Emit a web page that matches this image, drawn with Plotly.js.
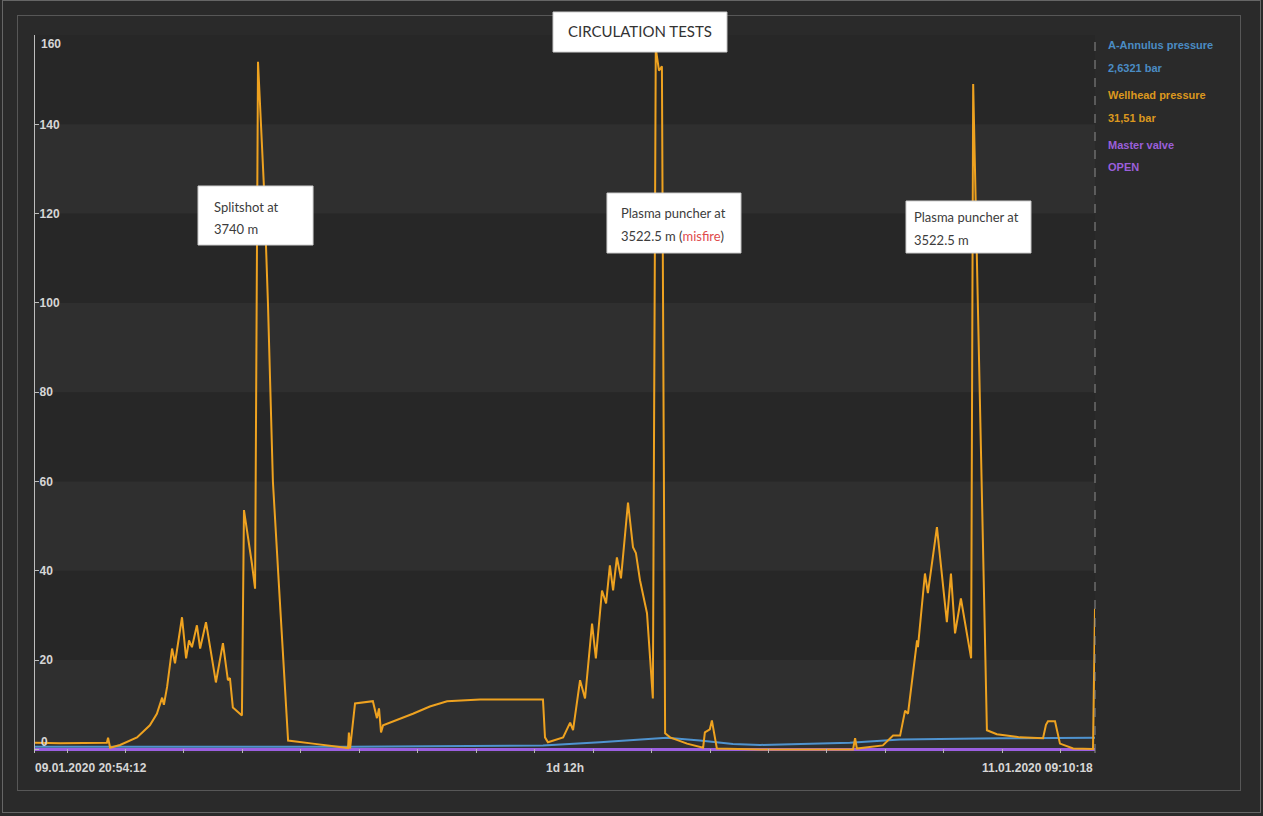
<!DOCTYPE html>
<html>
<head>
<meta charset="utf-8">
<script src="https://cdn.plot.ly/plotly-3.0.1.min.js"></script>
<style>
  html, body { margin: 0; padding: 0; background: #2a2a2a; }
  #wrap { position: relative; width: 1263px; height: 816px; overflow: hidden; background: #2a2a2a; }
  #edge { position: absolute; left: 2px; top: 0; width: 1259px; height: 813px; border: 1px solid #666; box-sizing: border-box; }
  #frame { position: absolute; left: 17px; top: 15px; width: 1224px; height: 776px; border: 1px solid #575757; box-sizing: border-box; }
  #chart { position: absolute; left: 0; top: 0; width: 1263px; height: 816px; }
</style>
</head>
<body>
<div id="wrap">
  <div id="edge"></div>
  <div id="frame"></div>
  <div id="chart"></div>
</div>
<script>
// Time window of the trend view
const windowStart = '2020-01-09T20:54:12Z';
const windowEnd = '2020-01-11T09:10:18Z';
const startLabel = '09.01.2020 20:54:12';
const spanLabel = '1d 12h';
const endLabel = '11.01.2020 09:10:18';

// Wellhead pressure [bar], sampled at hours after window start
const wellheadHours = [0.00,0.86,2.46,2.50,2.57,2.91,3.49,3.93,4.17,4.35,4.41,4.52,4.69,4.79,5.03,5.17,5.27,5.37,5.54,5.65,5.85,6.19,6.43,6.60,6.67,6.77,7.08,7.15,7.42,7.53,7.63,7.84,7.97,8.14,8.38,8.66,9.51,10.54,10.71,10.74,10.78,10.95,11.56,11.70,11.77,11.84,11.91,12.93,13.51,14.10,15.23,17.38,17.45,17.55,18.07,18.31,18.41,18.65,18.82,19.06,19.19,19.40,19.54,19.67,19.78,19.91,20.05,20.29,20.46,20.56,20.70,20.94,21.14,21.24,21.35,21.45,21.56,21.73,22.31,22.86,22.92,23.09,23.16,23.20,23.33,24.81,27.99,28.06,28.12,29.01,29.36,29.60,29.77,29.87,30.01,30.18,30.21,30.45,30.55,30.86,31.20,31.34,31.48,31.68,32.03,32.10,32.57,32.91,33.70,34.49,34.59,34.66,34.90,35.00,35.07,35.52,36.20,36.268];
const wellheadBar = [1.5,1.4,1.5,2.6,0.4,1.0,2.7,5.4,8.0,11.6,10.0,14.0,22.6,19.3,29.6,20.4,24.4,22.9,27.8,22.6,28.5,15.0,23.8,15.5,16.0,9.4,7.6,53.6,41.7,36.0,154,125,100,60,33,2.0,1.3,0.4,0.3,3.8,0.2,10.3,10.8,7.0,9.2,3.8,5.4,8.0,9.6,10.8,11.2,11.2,2.7,1.6,2.7,6.0,4.3,15.5,11.4,28.2,20.4,35.6,32.7,41.2,35.6,43.0,38.3,55.3,45.3,44.0,37.9,30.5,11.4,157,152,153,3.6,2.7,1.3,0.4,3.8,4.5,6.5,5.0,0.2,0.0,0.0,2.5,0.2,0.9,3.1,3.1,8.7,8.0,15.5,24.4,22.9,39.4,35.0,49.8,28.5,39.4,26.0,33.8,20.4,149,4.3,3.4,2.7,2.5,5.5,6.3,6.3,3.0,1.3,0.2,0.1,31.51];

// A-annulus pressure [bar]
const annulusHours = [0, 10.78, 17.38, 19.33, 21.62, 22.75, 23.88, 24.81, 27.88, 29.6, 33.0, 36.268];
const annulusBar = [0.6, 0.6, 0.9, 1.6, 2.6, 2.0, 1.2, 1.0, 1.5, 2.2, 2.5, 2.6321];

// Master valve state trace
const valveHours = [0, 36.268];
const valveLevel = [0, 0];
const valveStatus = 'OPEN';

// Y axis ticks
const yTicks = [0, 20, 40, 60, 80, 100, 120, 140, 160];

const colors = { annulus: '#4f93cf', wellhead: '#eea220', valve: '#9b5fe0' };

const t0 = Date.parse(windowStart);
const t1 = Date.parse(windowEnd);
const toTime = h => t0 + h * 3600000;

const traces = [
  { x: valveHours.map(toTime), y: valveLevel, mode: 'lines', line: { color: colors.valve, width: 3 }, name: 'Master valve' },
  { x: annulusHours.map(toTime), y: annulusBar, mode: 'lines', line: { color: colors.annulus, width: 2 }, name: 'A-Annulus pressure' },
  { x: wellheadHours.map(toTime), y: wellheadBar, mode: 'lines', line: { color: colors.wellhead, width: 2 }, name: 'Wellhead pressure' }
];

const yMin = -0.8;

// Alternating horizontal bands between y ticks
const shapes = [];
for (let i = 0; i + 1 < yTicks.length; i += 2) {
  shapes.push({ type: 'rect', xref: 'paper', yref: 'y', x0: 0, x1: 1,
    y0: i === 0 ? yMin : yTicks[i], y1: yTicks[i + 1],
    fillcolor: '#2f2f2f', line: { width: 0 }, layer: 'below' });
}
// "now" marker on the right edge
shapes.push({ type: 'line', xref: 'paper', yref: 'paper', x0: 1, x1: 1, y0: 0, y1: 1,
  line: { color: '#8c8c8c', width: 1, dash: 'dash' } });

// Note boxes
const boxes = [
  [0.4887, 0.6528, 0.9763, 1.0320],
  [0.1538, 0.2623, 0.7075, 0.7897],
  [0.5396, 0.6660, 0.6964, 0.7799],
  [0.8217, 0.9396, 0.6964, 0.7688]
];
boxes.forEach(b => shapes.push({ type: 'rect', xref: 'paper', yref: 'paper',
  x0: b[0], x1: b[1], y0: b[2], y1: b[3], fillcolor: '#ffffff',
  line: { color: '#cfcfcf', width: 1 }, layer: 'above' }));

const noteFont = { family: 'Lato, "Open Sans", sans-serif', size: 13, color: '#3c3c3c' };
const axisFont = { family: '"Liberation Sans", Arial, sans-serif', size: 12, color: '#d6d6d6', weight: 'bold' };
const legendFont = c => ({ family: '"Liberation Sans", Arial, sans-serif', size: 11, color: c, weight: 'bold' });

const fmt = (v, d) => v.toFixed(d).replace('.', ',');

const note = (text, x, y, extra) => Object.assign({ text, x, y, xref: 'paper', yref: 'paper',
  xanchor: 'left', yanchor: 'middle', showarrow: false, font: noteFont }, extra || {});

const annotations = [
  note('CIRCULATION TESTS', 0.5708, 1.0056, { xanchor: 'center', font: Object.assign({}, noteFont, { size: 15, color: '#333' }) }),
  note('Splitshot at', 0.1670, 0.7604),
  note('3740 m', 0.1670, 0.7298),
  note('Plasma puncher at', 0.5509, 0.7521),
  note('3522.5 m (<span style="color:#e04b4b">misfire</span>)', 0.5509, 0.7201),
  note('Plasma puncher at', 0.8274, 0.7465),
  note('3522.5 m', 0.8274, 0.7145),

  // time labels under the axis
  { text: startLabel, x: 0, y: -0.0209, xref: 'paper', yref: 'paper', xanchor: 'left', yanchor: 'middle', xshift: -2, showarrow: false, font: axisFont },
  { text: spanLabel, x: 0.5, y: -0.0209, xref: 'paper', yref: 'paper', xanchor: 'center', yanchor: 'middle', showarrow: false, font: axisFont },
  { text: endLabel, x: 1, y: -0.0209, xref: 'paper', yref: 'paper', xanchor: 'right', yanchor: 'middle', showarrow: false, font: axisFont },

  // end labels of the y axis, kept inside the plot
  { text: String(yTicks[yTicks.length - 1]), x: 0, y: yTicks[yTicks.length - 1], xref: 'paper', yref: 'y', xanchor: 'left', yanchor: 'middle', xshift: 4, yshift: -9, showarrow: false, font: axisFont },
  { text: String(yTicks[0]), x: 0, y: yTicks[0], xref: 'paper', yref: 'y', xanchor: 'left', yanchor: 'middle', xshift: 4, yshift: 7, showarrow: false, font: axisFont },

  // live value readout
  { text: 'A-Annulus pressure', x: 1.0104, y: 0.9861, xref: 'paper', yref: 'paper', xanchor: 'left', yanchor: 'middle', showarrow: false, font: legendFont('#4a8cc4') },
  { text: fmt(annulusBar[annulusBar.length - 1], 4) + ' bar', x: 1.0104, y: 0.9540, xref: 'paper', yref: 'paper', xanchor: 'left', yanchor: 'middle', showarrow: false, font: legendFont('#4a8cc4') },
  { text: 'Wellhead pressure', x: 1.0104, y: 0.9164, xref: 'paper', yref: 'paper', xanchor: 'left', yanchor: 'middle', showarrow: false, font: legendFont('#dc981e') },
  { text: fmt(wellheadBar[wellheadBar.length - 1], 2) + ' bar', x: 1.0104, y: 0.8844, xref: 'paper', yref: 'paper', xanchor: 'left', yanchor: 'middle', showarrow: false, font: legendFont('#dc981e') },
  { text: 'Master valve', x: 1.0104, y: 0.8468, xref: 'paper', yref: 'paper', xanchor: 'left', yanchor: 'middle', showarrow: false, font: legendFont('#9a5fda') },
  { text: valveStatus, x: 1.0104, y: 0.8162, xref: 'paper', yref: 'paper', xanchor: 'left', yanchor: 'middle', showarrow: false, font: legendFont('#9a5fda') }
];

const layout = {
  width: 1263, height: 816,
  margin: { l: 35, r: 168, t: 35, b: 63, pad: 0 },
  paper_bgcolor: 'rgba(0,0,0,0)',
  plot_bgcolor: '#272727',
  showlegend: false,
  xaxis: {
    type: 'date', range: [t0, t1], fixedrange: true,
    showgrid: false, zeroline: false, showline: false,
    ticks: 'inside', ticklen: 4, tickcolor: '#b5b5b5', tickwidth: 1,
    tick0: '2020-01-09 22:00:00', dtick: 7200000, showticklabels: false
  },
  yaxis: {
    range: [yMin, 160], fixedrange: true,
    showgrid: false, zeroline: false,
    showline: true, linecolor: '#bdbdbd', linewidth: 1,
    tickmode: 'array', tickvals: yTicks,
    ticktext: yTicks.map((v, i) => (i === 0 || i === yTicks.length - 1) ? '' : String(v)),
    ticks: 'inside', ticklen: 4, tickcolor: '#bdbdbd',
    ticklabelposition: 'inside', tickfont: axisFont
  },
  shapes, annotations
};

Plotly.newPlot('chart', traces, layout, { staticPlot: true, displayModeBar: false });
</script>
</body>
</html>
